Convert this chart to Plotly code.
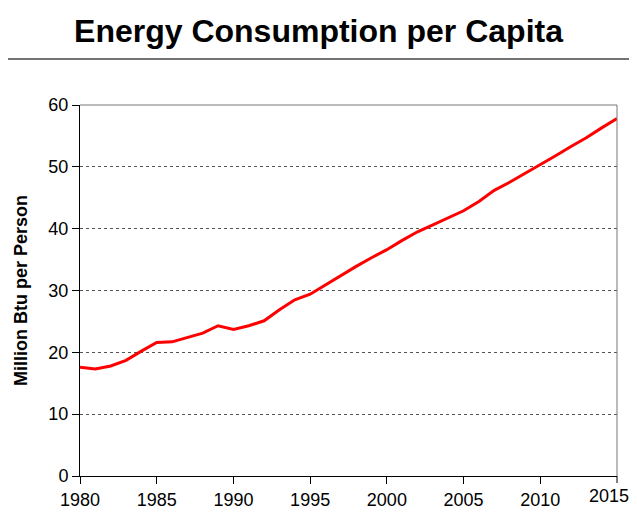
import plotly.graph_objects as go

years = list(range(1980, 2016))
consumption = [17.6, 17.3, 17.8, 18.7, 20.2, 21.6, 21.7, 22.4, 23.1, 24.3,
               23.7, 24.3, 25.1, 26.9, 28.5, 29.4, 30.9, 32.5, 33.9, 35.3,
               36.6, 38.1, 39.5, 40.6, 41.7, 42.9, 44.4, 46.2, 47.5, 48.9,
               50.3, 51.8, 53.3, 54.7, 56.3, 57.8]
x_ticks = [1980, 1985, 1990, 1995, 2000, 2005, 2010, 2015]
y_ticks = [0, 10, 20, 30, 40, 50, 60]

# page has an 8px body offset; size the figure to fit the window
OFF = 8
W, H = 637 - OFF, 513 - OFF
ml, mt = 80 - OFF, 105 - OFF
mr = W - (617 - OFF)
mb = H - (476 - OFF)

fig = go.Figure()
fig.add_trace(go.Scatter(x=years, y=consumption, mode="lines",
                         line=dict(color="#ff0000", width=3), showlegend=False))

plot_h = H - mt - mb
plot_w = W - ml - mr
rule_y = 59 - OFF

# last x tick label would be dropped at the figure edge; draw it as an annotation
last_tick = x_ticks[-1]

fig.update_layout(
    width=W, height=H,
    margin=dict(l=ml, r=mr, t=mt, b=mb, autoexpand=False),
    paper_bgcolor="white", plot_bgcolor="white",
    title=dict(text="<b>Energy Consumption per Capita</b>",
               font=dict(family="Arial, Liberation Sans", size=32, color="black"),
               x=(318.5 - OFF) / W, xanchor="center",
               y=1 - (31 - OFF) / H, yanchor="middle"),
    font=dict(family="Arial, Liberation Sans", color="black"),
    xaxis=dict(range=[1980, 2015], tickvals=x_ticks[:-1], showgrid=False,
               showline=True, linecolor="black", linewidth=1,
               ticks="outside", ticklen=7, tickcolor="black",
               tickfont=dict(size=18), zeroline=False, fixedrange=True,
               automargin=False),
    yaxis=dict(range=[0, 60], tickvals=y_ticks, showgrid=True,
               gridcolor="#555555", griddash="dot", gridwidth=1,
               showline=True, linecolor="black", linewidth=1,
               ticks="outside", ticklen=7, tickcolor="black",
               tickfont=dict(size=18), zeroline=False,
               title=dict(text="<b>Million Btu per Person</b>",
                          font=dict(size=18), standoff=16),
               fixedrange=True, automargin=False),
    annotations=[
        dict(x=last_tick, xref="x", y=0, yref="paper", yanchor="top",
             xanchor="right", text=str(last_tick), showarrow=False,
             font=dict(size=18, color="black"), borderpad=0,
             xshift=13, yshift=-9),
    ],
    shapes=[
        dict(type="line", xref="paper", yref="paper", x0=0, x1=1, y0=1, y1=1,
             line=dict(color="#777777", width=1)),
        dict(type="line", xref="paper", yref="paper", x0=1, x1=1, y0=0, y1=1,
             line=dict(color="#777777", width=1)),
        dict(type="line", xref="paper", yref="paper", x0=1, x1=1, y0=0,
             y1=-7 / plot_h, line=dict(color="black", width=1)),
        dict(type="line", xref="paper", yref="paper",
             x0=-ml / plot_w, x1=1 + mr / plot_w,
             y0=(H - mb - rule_y) / plot_h, y1=(H - mb - rule_y) / plot_h,
             line=dict(color="#444444", width=1.5)),
    ],
)

fig.write_html("out.html")
